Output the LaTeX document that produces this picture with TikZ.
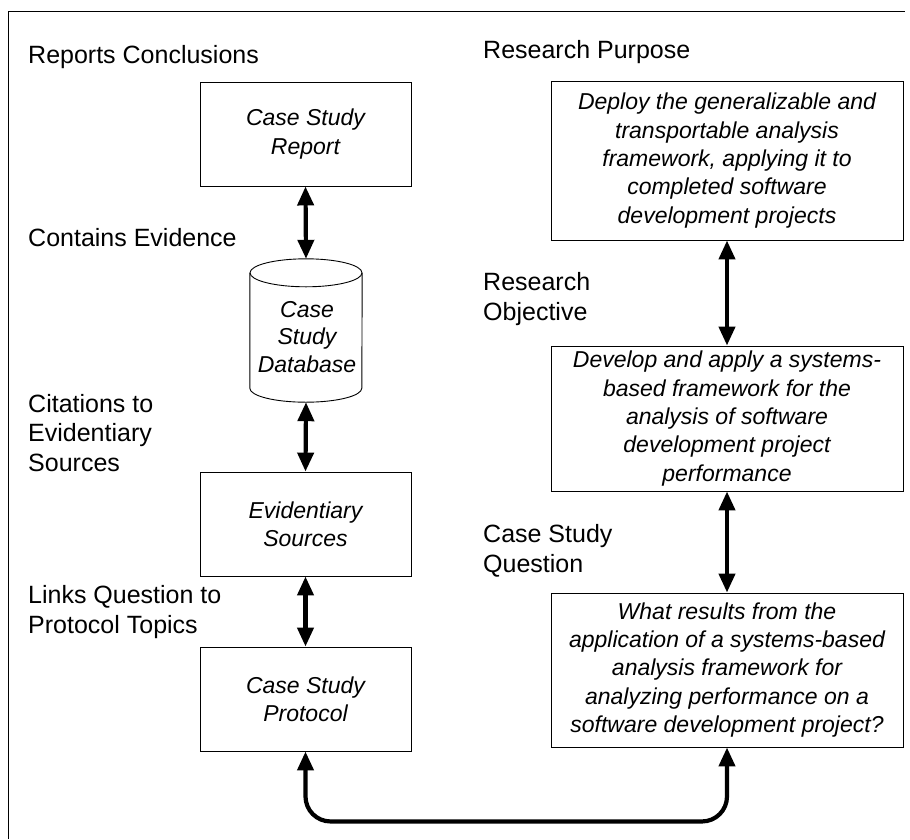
\documentclass[tikz,border=0pt]{standalone}
\usepackage{fontspec}
\setmainfont{Liberation Sans}
\usetikzlibrary{arrows.meta,calc}
\begin{document}
\begin{tikzpicture}[x=1pt,y=-1pt,
  lbl/.style={anchor=base west, align=left, inner sep=0pt,
    font=\fontsize{25}{29.5}\selectfont},
  box/.style={draw, line width=0.9pt, align=center, inner sep=0pt,
    font=\fontsize{23}{28.3}\selectfont\itshape},
  dbshape/.style={inner sep=0pt, minimum width=112pt, minimum height=143pt},
  dbtext/.style={align=center, inner sep=0pt,
    font=\fontsize{23}{27.5}\selectfont\itshape},
  dbl/.style={line width=4.2pt,
    {Triangle[width=16pt,length=19pt]}-{Triangle[width=16pt,length=19pt]}}]
\useasboundingbox (0,0) rectangle (910,839);

% frame (top and left edges only)
\draw[line width=0.8pt] (8,839) -- (8,11) -- (905,11);

% left column
\node[box, minimum width=211pt, minimum height=104pt] (rep) at (305.5,134)
  {Case Study\\Report};
\node[dbshape] (db) at (306,330.5) {};
\node[dbtext] (dbt) at (307,337) {Case\\Study\\Database};
\node[box, minimum width=211pt, minimum height=104pt] (evid) at (305.5,524)
  {Evidentiary\\Sources};
\node[box, minimum width=211pt, minimum height=104pt] (prot) at (305.5,699)
  {Case Study\\Protocol};

% database cylinder
\draw[line width=0.9pt] ($(db.north)+(0,14)$) ellipse [x radius=56pt, y radius=14pt];
\draw[line width=0.9pt] ($(db.north west)+(0,14)$) -- ($(db.south west)+(0,-14)$)
  arc[start angle=180, end angle=360, x radius=56pt, y radius=14pt]
  -- ($(db.north east)+(0,14)$);

% right column
\node[box, minimum width=352pt, minimum height=159pt] (purp) at (727,160.5)
  {Deploy the generalizable and\\transportable analysis\\framework, applying it to\\completed software\\development projects};
\node[box, minimum width=352pt, minimum height=145pt] (dev) at (727,418.5)
  {Develop and apply a systems-\\based framework for the\\analysis of software\\development project\\performance};
\node[box, minimum width=352pt, minimum height=154pt] (what) at (727,670)
  {What results from the\\application of a systems-based\\analysis framework for\\analyzing performance on a\\software development project?};

% labels (anchored at the baseline of their last line)
\node[lbl] (lrc) at (28,63) {Reports Conclusions};
\node[lbl] (lce) at (28,246) {Contains Evidence};
\node[lbl] (lcit) at (28,471) {Citations to\\Evidentiary\\Sources};
\node[lbl] (llq) at (28,633) {Links Question to\\Protocol Topics};
\node[lbl] (lrp) at (483,58) {Research Purpose};
\node[lbl] (lro) at (483,320) {Research\\Objective};
\node[lbl] (lcq) at (483,572) {Case Study\\Question};

% connectors
\draw[dbl] (rep.south) -- (db.north);
\draw[dbl] (db.south) -- (evid.north);
\draw[dbl] (evid.south) -- (prot.north);
\draw[dbl] (purp.south) -- (dev.north);
\draw[dbl] (dev.south) -- (what.north);
\draw[dbl, rounded corners=25pt] (prot.south) -- ++(0,70) -| (what.south);
\end{tikzpicture}
\end{document}
